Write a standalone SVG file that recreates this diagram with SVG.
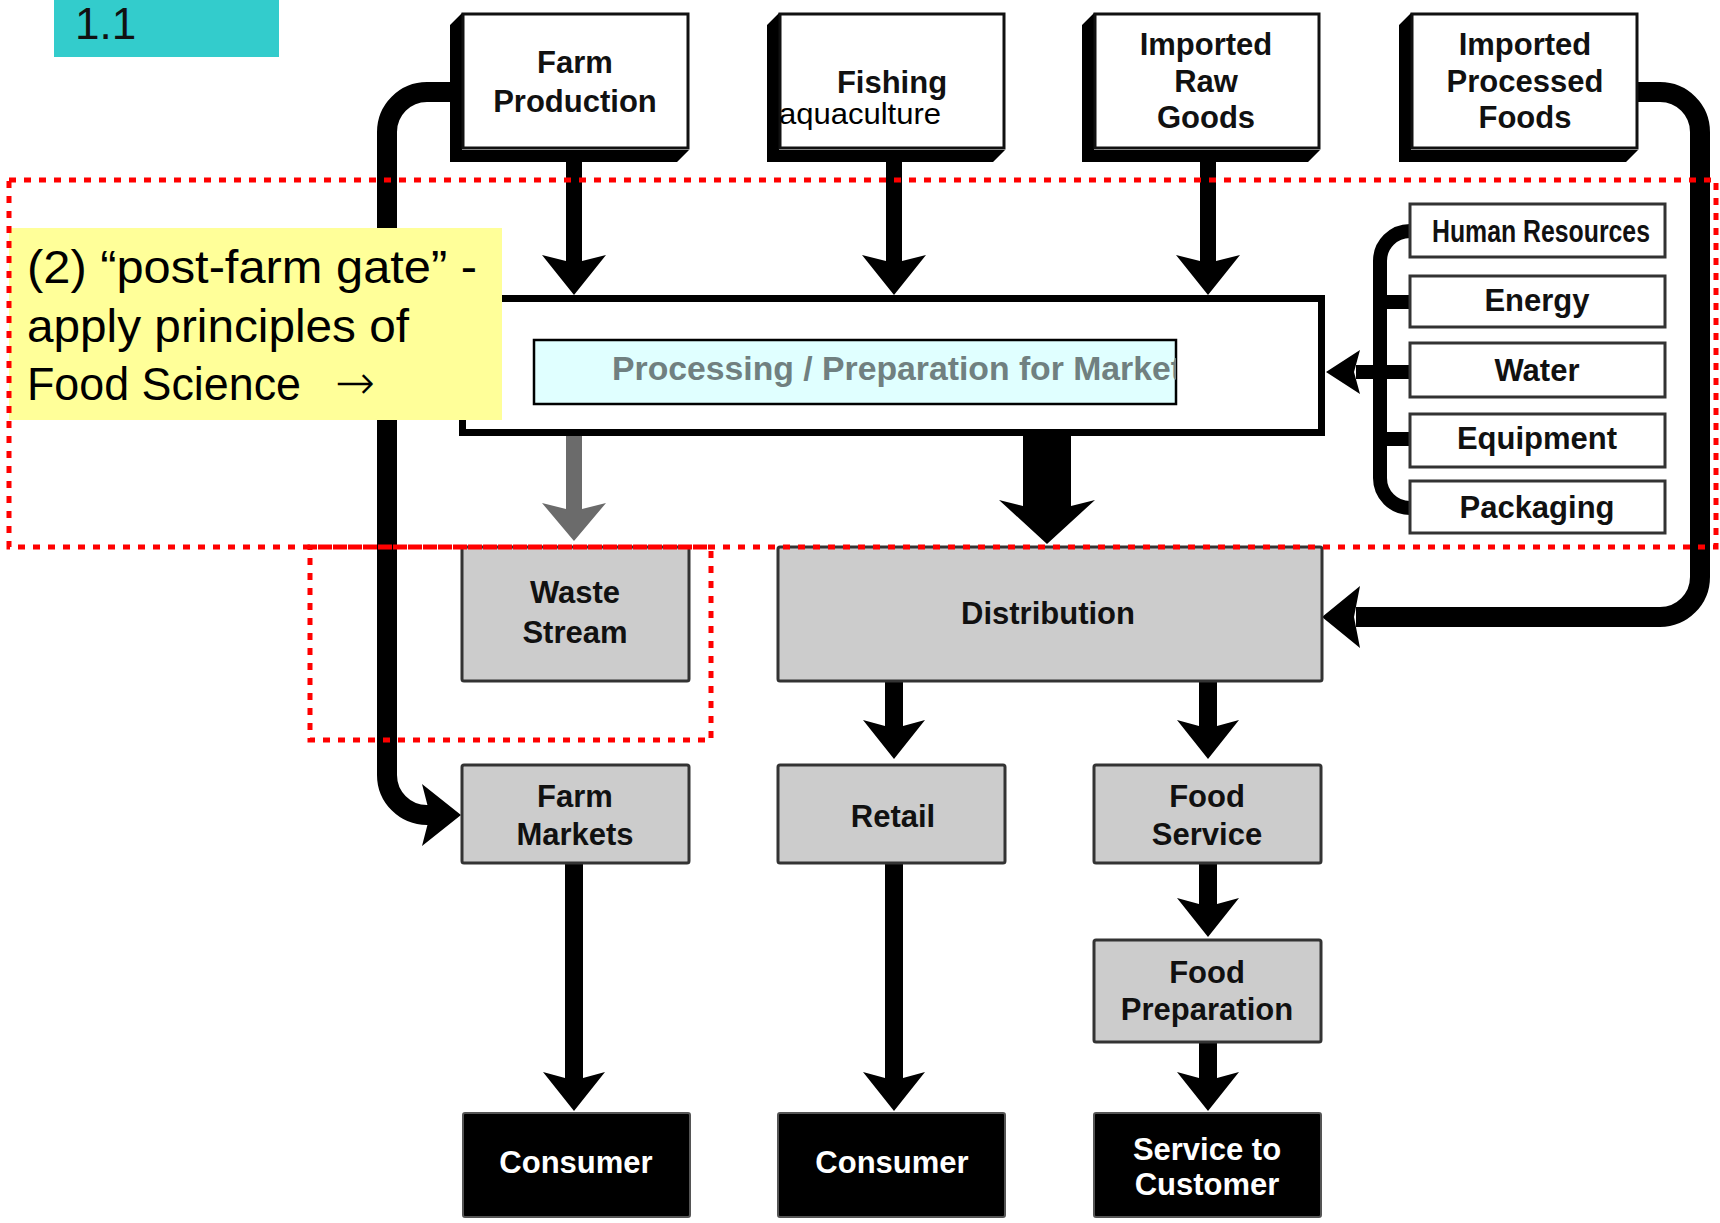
<svg xmlns="http://www.w3.org/2000/svg" width="1720" height="1223" viewBox="0 0 1720 1223">
<style>
.lbl{font-family:"Liberation Sans",Arial,sans-serif;font-weight:bold;font-size:31px;fill:#111;text-anchor:middle}
.wl{fill:#fff}
.gbox{fill:#cccccc;stroke:#333;stroke-width:3}
.bbox{fill:#000;stroke:#555;stroke-width:2}
.src{fill:#fff;stroke:#111;stroke-width:3}
.res{fill:#fff;stroke:#333;stroke-width:3}
.conn{fill:none;stroke:#000}
.red{fill:none;stroke:#ff0000;stroke-width:5;stroke-dasharray:7 8}
.note{font-family:"Liberation Sans",Arial,sans-serif;font-size:47px;fill:#000}
</style>
<defs>
<clipPath id="clipProc"><rect x="534" y="340" width="642" height="64"/></clipPath>
</defs>
<rect width="1720" height="1223" fill="#fff"/>

<g id="connectors">
<path class="conn" stroke-width="20" d="M452 92 H427 A40 40 0 0 0 387 132 V775 A40 40 0 0 0 427 815 H430"/>
<polygon points="461,815 422,784 430,815 422,846" fill="#000"/>
<path class="conn" stroke-width="20" d="M1636 92 H1660 A40 40 0 0 1 1700 132 V577 A40 40 0 0 1 1660 617 H1356"/>
<polygon points="1322,617 1360,586 1354,617 1360,648" fill="#000"/>
<path class="conn" stroke-width="14" d="M1412 231 H1410 A30 30 0 0 0 1380 261 V478 A30 30 0 0 0 1410 508 H1412"/>
<path class="conn" stroke-width="14" d="M1380 302 H1412 M1380 372 H1412 M1380 439 H1412 M1381 372 H1356"/>
<polygon points="1326,372 1360,350 1354,372 1360,394" fill="#000"/>
<polygon points="566,162 582,162 582,261 606,255 574,295 542,255 566,261" fill="#000"/>
<polygon points="886,162 902,162 902,261 926,255 894,295 862,255 886,261" fill="#000"/>
<polygon points="1200,162 1216,162 1216,261 1240,255 1208,295 1176,255 1200,261" fill="#000"/>
<polygon points="566,436 582,436 582,509 606,503 574,541 542,503 566,509" fill="#6b6b6b"/>
<polygon points="1023,436 1071,436 1071,506 1095,500 1047,544 999,500 1023,506" fill="#000"/>
<polygon points="885,681 903,681 903,726 925,720 894,759 863,720 885,726" fill="#000"/>
<polygon points="1199,681 1217,681 1217,726 1239,720 1208,759 1177,720 1199,726" fill="#000"/>
<polygon points="1199,863 1217,863 1217,904 1239,898 1208,937 1177,898 1199,904" fill="#000"/>
<polygon points="1199,1042 1217,1042 1217,1078 1239,1072 1208,1111 1177,1072 1199,1078" fill="#000"/>
<polygon points="565,863 583,863 583,1078 605,1072 574,1111 543,1072 565,1078" fill="#000"/>
<polygon points="885,863 903,863 903,1078 925,1072 894,1111 863,1072 885,1078" fill="#000"/>
</g>

<g id="farm-production">
<polygon points="462,13 450,25 450,162 677,162 689,150 462,150" fill="#000"/>
<rect class="src" x="463" y="14" width="225" height="134"/>
<text class="lbl" x="575" y="73">Farm</text>
<text class="lbl" x="575" y="112">Production</text>
</g>
<g id="fishing">
<polygon points="779,13 767,25 767,162 993,162 1005,150 779,150" fill="#000"/>
<rect class="src" x="780" y="14" width="224" height="134"/>
<text class="lbl" x="892" y="93">Fishing</text>
<text x="779" y="124" font-family="Liberation Sans, Arial, sans-serif" font-size="29" textLength="162" lengthAdjust="spacingAndGlyphs" fill="#000">aquaculture</text>
</g>
<g id="imported-raw-goods">
<polygon points="1094,13 1082,25 1082,162 1308,162 1320,150 1094,150" fill="#000"/>
<rect class="src" x="1095" y="14" width="224" height="134"/>
<text class="lbl" x="1206" y="55">Imported</text>
<text class="lbl" x="1206" y="92">Raw</text>
<text class="lbl" x="1206" y="128">Goods</text>
</g>
<g id="imported-processed-foods">
<polygon points="1411,13 1399,25 1399,162 1626,162 1638,150 1411,150" fill="#000"/>
<rect class="src" x="1412" y="14" width="225" height="134"/>
<text class="lbl" x="1525" y="55">Imported</text>
<text class="lbl" x="1525" y="92">Processed</text>
<text class="lbl" x="1525" y="128">Foods</text>
</g>

<g id="processing">
<rect x="462.5" y="298.5" width="859" height="134" fill="#fff" stroke="#000" stroke-width="7"/>
<rect x="534" y="340" width="642" height="64" fill="#e0ffff" stroke="#000" stroke-width="2.5"/>
<text clip-path="url(#clipProc)" x="612" y="380" font-family="Liberation Sans, Arial, sans-serif" font-weight="bold" font-size="33" fill="#708080" textLength="570" lengthAdjust="spacingAndGlyphs">Processing / Preparation for Market</text>
</g>

<g id="human-resources">
<rect class="res" x="1410" y="204" width="255" height="53"/>
<text class="lbl" x="1541" y="242" font-size="27" textLength="218" lengthAdjust="spacingAndGlyphs">Human Resources</text>
</g>
<g id="energy">
<rect class="res" x="1410" y="276" width="255" height="51"/>
<text class="lbl" x="1537" y="311">Energy</text>
</g>
<g id="water">
<rect class="res" x="1410" y="343" width="255" height="54"/>
<text class="lbl" x="1537" y="381">Water</text>
</g>
<g id="equipment">
<rect class="res" x="1410" y="414" width="255" height="53"/>
<text class="lbl" x="1537" y="449">Equipment</text>
</g>
<g id="packaging">
<rect class="res" x="1410" y="481" width="255" height="52"/>
<text class="lbl" x="1537" y="518">Packaging</text>
</g>

<g id="waste-stream">
<rect class="gbox" x="462" y="547" width="227" height="134" rx="2"/>
<text class="lbl" x="575" y="603">Waste</text>
<text class="lbl" x="575" y="643">Stream</text>
</g>
<g id="distribution">
<rect class="gbox" x="778" y="547" width="544" height="134" rx="2"/>
<text class="lbl" x="1048" y="624">Distribution</text>
</g>
<g id="farm-markets">
<rect class="gbox" x="462" y="765" width="227" height="98" rx="2"/>
<text class="lbl" x="575" y="807">Farm</text>
<text class="lbl" x="575" y="845">Markets</text>
</g>
<g id="retail">
<rect class="gbox" x="778" y="765" width="227" height="98" rx="2"/>
<text class="lbl" x="893" y="827">Retail</text>
</g>
<g id="food-service">
<rect class="gbox" x="1094" y="765" width="227" height="98" rx="2"/>
<text class="lbl" x="1207" y="807">Food</text>
<text class="lbl" x="1207" y="845">Service</text>
</g>
<g id="food-preparation">
<rect class="gbox" x="1094" y="940" width="227" height="102" rx="2"/>
<text class="lbl" x="1207" y="983">Food</text>
<text class="lbl" x="1207" y="1020">Preparation</text>
</g>
<g id="consumer-1">
<rect class="bbox" x="463" y="1113" width="227" height="104" rx="2"/>
<text class="lbl wl" x="576" y="1173">Consumer</text>
</g>
<g id="consumer-2">
<rect class="bbox" x="778" y="1113" width="227" height="104" rx="2"/>
<text class="lbl wl" x="892" y="1173">Consumer</text>
</g>
<g id="service-to-customer">
<rect class="bbox" x="1094" y="1113" width="227" height="104" rx="2"/>
<text class="lbl wl" x="1207" y="1160">Service to</text>
<text class="lbl wl" x="1207" y="1195">Customer</text>
</g>

<g id="slide-number">
<rect x="54" y="0" width="225" height="57" fill="#33cccc"/>
<text x="75" y="39" font-family="Liberation Sans, Arial, sans-serif" font-size="44" fill="#111">1.1</text>
</g>

<g id="note">
<rect x="9" y="228" width="493" height="192" fill="#ffff99"/>
<text class="note" x="27" y="283" textLength="450" lengthAdjust="spacingAndGlyphs">(2) “post-farm gate” -</text>
<text class="note" x="27" y="342" textLength="382" lengthAdjust="spacingAndGlyphs">apply principles of</text>
<text class="note" x="27" y="400" textLength="274" lengthAdjust="spacingAndGlyphs">Food Science</text>
<text x="335" y="399" font-family="DejaVu Sans, sans-serif" font-size="48" font-weight="300" fill="#000" textLength="40" lengthAdjust="spacingAndGlyphs">→</text>
</g>

<g id="highlights">
<rect class="red" x="9" y="180" width="1707" height="367"/>
<rect class="red" x="310" y="547" width="401" height="193"/>
</g>
</svg>
